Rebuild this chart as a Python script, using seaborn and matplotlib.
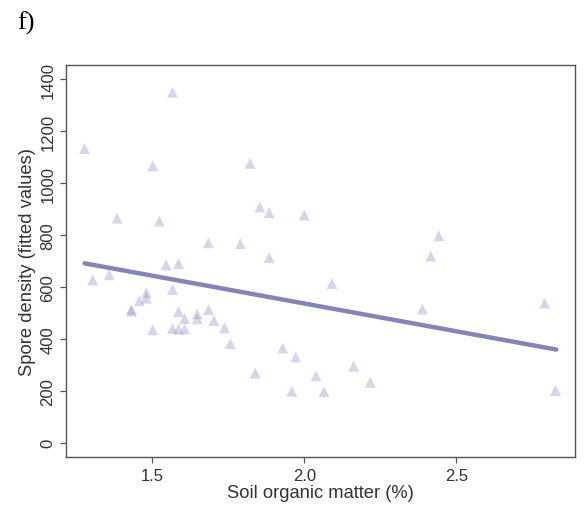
import matplotlib
matplotlib.use("Agg")
import matplotlib.pyplot as plt
import seaborn as sns
import pandas as pd

# soil organic matter (%) and fitted spore density
som = [1.278, 1.305, 1.359, 1.385, 1.432, 1.432, 1.458, 1.481, 1.481, 1.502,
       1.502, 1.524, 1.546, 1.567, 1.567, 1.567, 1.587, 1.587, 1.587, 1.607,
       1.607, 1.648, 1.648, 1.685, 1.685, 1.703, 1.738, 1.757, 1.790, 1.822,
       1.839, 1.854, 1.885, 1.885, 1.929, 1.959, 1.972, 2.000, 2.039, 2.065,
       2.091, 2.162, 2.217, 2.388, 2.416, 2.442, 2.790, 2.826]
spores = [1133, 627, 647, 865, 513, 507, 547, 578, 557, 1066,
          435, 854, 685, 1350, 590, 440, 690, 505, 438, 478,
          438, 496, 477, 770, 513, 471, 443, 382, 767, 1076,
          268, 908, 886, 713, 365, 199, 331, 877, 258, 197,
          613, 295, 233, 515, 719, 797, 538, 201]

# fitted regression line end points
fit_x = [1.278, 2.828]
fit_y = [691, 359]

x_ticks = [1.5, 2.0, 2.5]
y_ticks = [0, 200, 400, 600, 800, 1000, 1200, 1400]

pts = pd.DataFrame({"som": som, "spores": spores})
fit = pd.DataFrame({"som": fit_x, "spores": fit_y})

sns.set_style("ticks")
plt.rcParams["font.family"] = ["Liberation Sans", "DejaVu Sans"]

fig = plt.figure(figsize=(5.84, 5.10), dpi=100)
ax = fig.add_axes([0.1125, 0.1014, 0.8721, 0.7698])

sns.scatterplot(
    data=pts, x="som", y="spores",
    marker="^", s=62, color=(0.55, 0.55, 0.75), alpha=0.35,
    edgecolor="none", linewidth=0, ax=ax)

sns.lineplot(
    data=fit, x="som", y="spores",
    color="#8585b5", linewidth=3.2, ax=ax)

ax.set_xlim(1.216, 2.890)
ax.set_ylim(-56, 1456)
ax.set_xticks(x_ticks)
ax.set_xticklabels(["1.5", "2.0", "2.5"])
ax.set_yticks(y_ticks)
ax.set_yticklabels([str(v) for v in y_ticks], rotation=90, va="center")

for sp in ax.spines.values():
    sp.set_visible(True)
    sp.set_color("#555555")
    sp.set_linewidth(1.0)

ax.tick_params(axis="both", direction="out", length=4.5, width=0.9,
               color="#555555", labelsize=12, labelcolor="#333333", pad=3)
ax.set_xlabel("Soil organic matter (%)", fontsize=13.2, color="#333333", labelpad=1)
ax.set_ylabel("Spore density (fitted values)", fontsize=13.2, color="#333333", labelpad=3)

fig.text(0.029, 0.955, "f)", family=["Liberation Serif", "DejaVu Serif"],
         fontsize=19, color="black", va="center", ha="left")

fig.savefig("out.png", dpi=100)
